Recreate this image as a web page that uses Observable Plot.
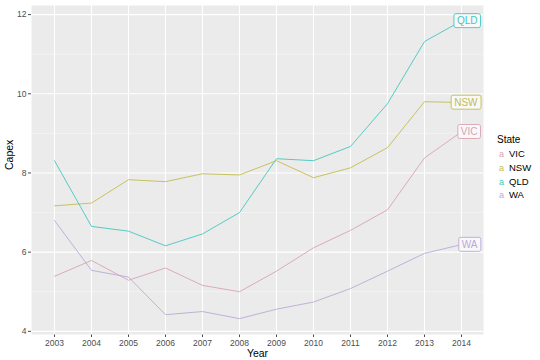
<!DOCTYPE html>
<html>
<head>
<meta charset="utf-8">
<script src="https://cdn.jsdelivr.net/npm/d3@7"></script>
<script src="https://cdn.jsdelivr.net/npm/@observablehq/plot@0.6"></script>
<style>
  body { margin: 0; background: #fff; font-family: "Liberation Sans", Arial, sans-serif; }
  #wrap { position: relative; width: 540px; height: 360px; }
  #legend { position: absolute; left: 497px; top: 134px; font-size: 9.5px; color: #000; }
  #legend .title { font-size: 10px; margin-bottom: 2px; }
  #legend .item { height: 13.8px; line-height: 13.8px; white-space: nowrap; }
  #legend .key { display: inline-block; width: 9px; text-align: center; font-size: 9px; margin-right: 3px; }
</style>
</head>
<body>
<div id="wrap"><div id="legend"></div></div>
<script>
const years = [2003, 2004, 2005, 2006, 2007, 2008, 2009, 2010, 2011, 2012, 2013, 2014];
const states = ["VIC", "NSW", "QLD", "WA"];
const colors = ["#d9a3b1", "#c2bd4e", "#45c6bf", "#bba9d6"];
const vic = [5.39, 5.79, 5.29, 5.60, 5.16, 5.00, 5.52, 6.11, 6.55, 7.07, 8.38, 9.04];
const nsw = [7.17, 7.24, 7.83, 7.78, 7.98, 7.95, 8.31, 7.88, 8.13, 8.64, 9.80, 9.78];
const qld = [8.31, 6.65, 6.53, 6.16, 6.46, 7.00, 8.36, 8.31, 8.67, 9.75, 11.32, 11.84];
const wa  = [6.80, 5.54, 5.37, 4.42, 4.50, 4.32, 4.56, 4.74, 5.08, 5.52, 5.97, 6.19];
const yMajor = [4, 6, 8, 10, 12];
const yMinor = [5, 7, 9, 11];

const series = {VIC: vic, NSW: nsw, QLD: qld, WA: wa};
const data = [];
for (const s of states) years.forEach((y, i) => data.push({state: s, year: y, value: series[s][i]}));
const last = states.map(s => ({state: s, year: years[years.length - 1], value: series[s][years.length - 1]}));

const plot = Plot.plot({
  width: 540,
  height: 360,
  marginTop: 5,
  marginRight: 57,
  marginBottom: 26,
  marginLeft: 31,
  style: {color: "#4d4d4d", fontFamily: "Liberation Sans, Arial, sans-serif", fontSize: "8.5px", background: "transparent"},
  x: {type: "point", domain: years, padding: 0.6, label: null, tickSize: 3, tickPadding: 2, tickFormat: d => String(d)},
  y: {domain: [3.92, 12.23], ticks: 5, label: null, tickSize: 3, tickPadding: 2},
  color: {domain: states, range: colors},
  marks: [
    Plot.frame({fill: "#ebebeb", stroke: "none"}),
    Plot.ruleY(yMinor, {stroke: "#fafafa", strokeWidth: 0.55}),
    Plot.ruleY(yMajor, {stroke: "white", strokeWidth: 1.1}),
    Plot.ruleX(years, {stroke: "white", strokeWidth: 1.1}),
    Plot.line(data, {x: "year", y: "value", z: "state", stroke: "state", strokeWidth: 0.9}),
    Plot.text(last, {x: "year", y: "value", text: "state", fill: "state", textAnchor: "end", dx: 16, fontSize: 10}),
    Plot.text(["Year"], {text: d => d, frameAnchor: "bottom", dy: 22, fill: "black", fontSize: 10.5}),
    Plot.text(["Capex"], {text: d => d, frameAnchor: "left", dx: -22, rotate: -90, fill: "black", fontSize: 10.5})
  ]
});
document.getElementById("wrap").prepend(plot);

// draw label boxes behind the state labels (like geom_label)
const texts = Array.from(plot.querySelectorAll("text")).filter(t => states.includes(t.textContent) && t.getAttribute("fill"));
texts.forEach(t => {
  const bb = t.getBBox();
  const r = document.createElementNS("http://www.w3.org/2000/svg", "rect");
  r.setAttribute("x", bb.x - 3);
  r.setAttribute("y", bb.y - 1.5);
  r.setAttribute("width", bb.width + 6);
  r.setAttribute("height", bb.height + 3);
  r.setAttribute("rx", 2);
  r.setAttribute("fill", "#f8f8f8");
  r.setAttribute("stroke", t.getAttribute("fill"));
  r.setAttribute("stroke-width", 0.9);
  const tr = t.getAttribute("transform");
  if (tr) r.setAttribute("transform", tr);
  t.parentNode.insertBefore(r, t);
});

// legend
const lg = document.getElementById("legend");
const title = document.createElement("div");
title.className = "title";
title.textContent = "State";
lg.appendChild(title);
states.forEach((s, i) => {
  const it = document.createElement("div");
  it.className = "item";
  const k = document.createElement("span");
  k.className = "key";
  k.style.color = colors[i];
  k.textContent = "a";
  it.appendChild(k);
  it.appendChild(document.createTextNode(s));
  lg.appendChild(it);
});
</script>
</body>
</html>
